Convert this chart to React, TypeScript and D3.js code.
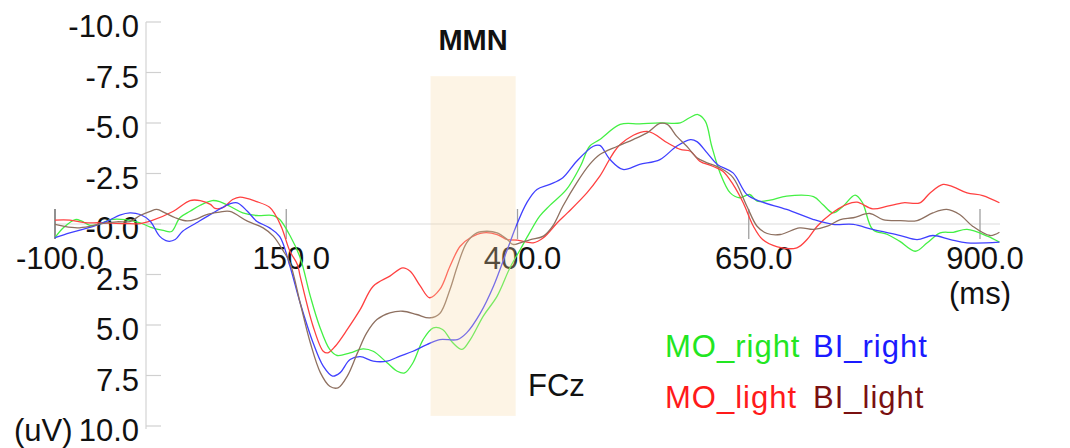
import { useEffect, useRef } from 'react';
import * as d3 from 'd3';

// ERP at FCz, time in ms vs amplitude in uV (negative up)
const xTicks = [-100, 150, 400, 650, 900];
const yTicks = [-10, -7.5, -5, -2.5, 0, 2.5, 5, 7.5, 10];

const seriesNames = ['MO_right', 'BI_right', 'MO_light', 'BI_light'];

// [ms, uV]
const moRight = [
  [-100, 0.68], [-91, 0.19], [-78, -0.22], [-71, -0.14], [-62, 0.07], [-51, -0.01], [-40, -0.22],
  [-24, -0.22], [-8, -0.06], [3, 0.15], [17, 0.32], [26, 0.37], [35, -0.31], [46, -0.63],
  [57, -0.93], [70, -1.16], [78, -1.11], [89, -0.88], [103, -0.55], [118, -0.42], [136, -0.42],
  [143, -0.22], [154, 0.57], [165, 1.66], [176, 3.57], [186, 5.06], [197, 6.21], [205, 6.51],
  [219, 6.38], [233, 6.18], [244, 6.3], [259, 6.87], [270, 7.29], [278, 7.37], [287, 6.87],
  [298, 5.72], [309, 5.14], [319, 5.22], [330, 5.88], [340, 6.21], [349, 5.72], [363, 4.56],
  [378, 3.57], [392, 2.15], [403, 1.26], [413, 0.44], [424, -0.39], [435, -0.92], [453, -1.71],
  [468, -2.86], [478, -3.85], [489, -4.18], [511, -4.93], [532, -4.96], [554, -5.01], [576, -5.01],
  [586, -5.26], [595, -5.42], [603, -5.09], [610, -3.85], [619, -2.53], [630, -1.54], [640, -1.3],
  [651, -1.46], [659, -1.13], [673, -1.18], [691, -1.38], [720, -1.35], [730, -0.97], [741, -0.55],
  [752, -0.88], [765, -1.43], [773, -1.05], [784, 0.27], [800, 0.52], [813, 0.85], [830, 1.35],
  [843, 0.93], [857, 0.44], [871, 0.41], [886, 0.27], [908, 0.6], [921, 0.9],
];

const biRight = [
  [-100, 0.68], [-84, 0.44], [-70, 0.27], [-51, -0.01], [-40, -0.22], [-30, -0.44], [-19, -0.55],
  [-8, -0.47], [3, -0.14], [13, 0.6], [22, 0.85], [30, 0.77], [38, 0.36], [53, -0.06],
  [71, -0.55], [89, -1.0], [97, -1.05], [108, -0.63], [118, -0.14], [132, 0.19], [143, 0.62],
  [154, 2.09], [165, 3.9], [179, 5.88], [190, 7.04], [200, 7.53], [208, 7.37], [219, 6.71],
  [230, 6.57], [244, 6.79], [259, 6.79], [273, 6.54], [287, 6.3], [302, 5.97], [316, 5.72],
  [335, 5.72], [345, 5.39], [360, 4.4], [374, 3.08], [389, 1.26], [400, -0.06], [410, -1.05],
  [421, -1.71], [435, -1.96], [449, -2.29], [464, -3.11], [482, -3.85], [489, -3.89], [500, -3.19],
  [514, -2.7], [532, -2.95], [554, -3.19], [572, -3.85], [587, -4.18], [594, -4.08], [605, -3.52],
  [616, -2.95], [633, -2.53], [648, -1.46], [662, -1.13], [691, -0.72], [720, -0.22], [741, 0.02],
  [763, 0.02], [784, 0.27], [814, 0.57], [832, 0.77], [849, 0.57], [868, 0.77], [886, 0.93],
  [921, 0.9],
];

const moLight = [
  [-100, -0.19], [-84, -0.19], [-68, -0.07], [-51, -0.06], [-24, -0.02], [-8, -0.02], [3, -0.14],
  [28, -0.63], [46, -1.16], [57, -1.16], [68, -0.97], [73, -0.77], [82, -0.82], [92, -1.21],
  [100, -1.33], [118, -1.11], [132, -0.83], [138, -0.47], [145, 0.17], [154, 1.35], [162, 2.0],
  [165, 2.58], [179, 5.06], [190, 6.3], [195, 6.38], [203, 6.05], [216, 5.22], [230, 4.23],
  [244, 3.08], [262, 2.58], [276, 2.17], [284, 2.34], [295, 3.08], [305, 3.65], [316, 3.24],
  [327, 2.09], [338, 1.1], [349, 0.68], [363, 0.44], [378, 0.52], [389, 0.77], [400, 0.8],
  [417, 0.93], [428, 0.68], [443, -0.06], [454, -0.55], [475, -1.54], [489, -2.37], [511, -3.94],
  [540, -4.59], [562, -4.02], [576, -3.69], [587, -3.6], [597, -3.11], [611, -2.86], [622, -2.61],
  [633, -1.96], [644, -1.05], [655, 0.11], [665, 0.77], [681, 1.13], [702, 1.18], [713, 0.77],
  [724, 0.11], [738, -0.47], [756, -0.97], [767, -1.08], [784, -0.75], [800, -0.88], [817, -1.05],
  [835, -1.05], [846, -1.54], [860, -1.96], [871, -1.84], [886, -1.54], [903, -1.41], [921, -1.05],
];

const biLight = [
  [-100, 0.02], [-91, 0.11], [-76, 0.19], [-62, 0.11], [-51, -0.01], [-33, -0.11], [-19, -0.12],
  [-8, -0.42], [3, -0.63], [10, -0.72], [19, -0.55], [30, -0.31], [43, -0.15], [54, -0.27],
  [64, -0.47], [78, -0.59], [89, -0.62], [108, -0.14], [125, 0.19], [136, 0.6], [147, 1.35],
  [154, 1.92], [165, 3.9], [176, 5.88], [187, 7.37], [197, 8.03], [206, 8.11], [216, 7.53],
  [227, 6.38], [237, 5.39], [248, 4.73], [262, 4.4], [276, 4.32], [291, 4.48], [305, 4.65],
  [316, 4.43], [327, 3.24], [335, 2.09], [345, 0.93], [356, 0.44], [367, 0.36], [378, 0.44],
  [389, 0.77], [395, 1.01], [403, 0.93], [414, 0.77], [428, 0.6], [438, 0.11], [449, -0.88],
  [464, -2.04], [478, -2.95], [489, -3.44], [508, -3.85], [525, -4.18], [540, -4.51], [554, -4.98],
  [562, -4.93], [572, -4.35], [583, -3.85], [594, -3.28], [605, -3.03], [619, -2.78], [633, -2.3],
  [648, -0.88], [659, 0.11], [670, 0.47], [684, 0.52], [705, 0.19], [720, 0.27], [735, 0.11],
  [749, -0.22], [763, -0.31], [781, -0.52], [795, -0.22], [814, -0.17], [832, -0.17], [849, -0.55],
  [864, -0.72], [878, -0.47], [892, 0.11], [911, 0.57], [921, 0.41],
];

const seriesData = [moRight, biRight, moLight, biLight];
const lineColors = ['#44f044', '#4040ff', '#ff4040', '#8e7060'];
const legendColors = ['#22e622', '#1a1aff', '#ff1a1a', '#7a1010'];
const drawOrder = [0, 2, 1, 3];

const mmnWindow = [306, 398];
const mmnRange = [-7.32, 9.5];

const W = 1070;
const H = 448;
const FONT = 'Liberation Sans, Arial, sans-serif';

export default function App() {
  const svgRef = useRef<SVGSVGElement | null>(null);

  useEffect(() => {
    const el = svgRef.current;
    if (!el) return;
    const svg = d3.select(el);
    svg.selectAll('*').remove();

    const x = d3.scaleLinear().domain([-100, 900]).range([55, 980]);
    const y = d3.scaleLinear().domain([-10, 10]).range([22, 426]);

    svg.append('rect').attr('width', W).attr('height', H).attr('fill', '#fff');

    // zero line
    svg.append('line')
      .attr('x1', x(-100)).attr('x2', 1000)
      .attr('y1', y(0)).attr('y2', y(0))
      .attr('stroke', '#dcdcdc').attr('stroke-width', 1.2);

    // y axis
    const x0 = x(0) - 1.5;
    svg.append('line')
      .attr('x1', x0).attr('x2', x0)
      .attr('y1', y(-10)).attr('y2', y(10) + 3)
      .attr('stroke', '#d4d4d4').attr('stroke-width', 1.2);

    yTicks.forEach(t => {
      svg.append('line')
        .attr('x1', x0).attr('x2', x0 + 15)
        .attr('y1', y(t)).attr('y2', y(t))
        .attr('stroke', '#d0d0d0').attr('stroke-width', 1.2);
      svg.append('text')
        .attr('x', 139).attr('y', y(t) + 15)
        .attr('text-anchor', 'end')
        .style('font-family', FONT).style('font-size', '31px').style('fill', '#111')
        .text(t === 0 ? '-0.0' : t.toFixed(1));
    });

    svg.append('text')
      .attr('x', 14).attr('y', y(10) + 15)
      .style('font-family', FONT).style('font-size', '31px').style('fill', '#111')
      .text('(uV)');

    // x ticks
    xTicks.forEach((t, i) => {
      svg.append('line')
        .attr('x1', x(t)).attr('x2', x(t))
        .attr('y1', y(0) - 15).attr('y2', y(0) + 15)
        .attr('stroke', i === 0 ? '#555' : '#a0a0a0').attr('stroke-width', 1.3);
      svg.append('text')
        .attr('x', x(t) + 5).attr('y', 269)
        .attr('text-anchor', 'middle')
        .style('font-family', FONT).style('font-size', '31px').style('fill', '#111')
        .text(t.toFixed(1));
    });

    svg.append('text')
      .attr('x', x(900)).attr('y', 304)
      .attr('text-anchor', 'middle')
      .style('font-family', FONT).style('font-size', '31px').style('fill', '#111')
      .text('(ms)');

    // waveforms
    const line = d3.line<number[]>()
      .x(d => x(d[0]))
      .y(d => y(d[1]))
      .curve(d3.curveCatmullRom.alpha(0.5));

    drawOrder.forEach(i => {
      svg.append('path')
        .datum(seriesData[i])
        .attr('fill', 'none')
        .attr('stroke', lineColors[i])
        .attr('stroke-width', 1.3)
        .attr('stroke-linejoin', 'round')
        .attr('d', line);
    });

    // MMN window (translucent overlay)
    svg.append('rect')
      .attr('x', x(mmnWindow[0])).attr('y', y(mmnRange[0]))
      .attr('width', x(mmnWindow[1]) - x(mmnWindow[0]))
      .attr('height', y(mmnRange[1]) - y(mmnRange[0]))
      .attr('fill', '#f8dca8').attr('opacity', 0.3);

    svg.append('text')
      .attr('x', (x(mmnWindow[0]) + x(mmnWindow[1])) / 2).attr('y', 50)
      .attr('text-anchor', 'middle')
      .style('font-family', FONT).style('font-size', '29px').style('font-weight', 'bold')
      .style('fill', '#111')
      .text('MMN');

    svg.append('text')
      .attr('x', 528).attr('y', 396)
      .style('font-family', FONT).style('font-size', '31px').style('fill', '#111')
      .text('FCz');

    // legend
    const legendPos = [[665, 357], [813, 357], [665, 408], [813, 408]];
    seriesNames.forEach((name, i) => {
      svg.append('text')
        .attr('x', legendPos[i][0]).attr('y', legendPos[i][1])
        .style('font-family', FONT).style('font-size', '31px')
        .style('letter-spacing', '1px')
        .style('fill', legendColors[i])
        .text(name);
    });
  }, []);

  return (
    <svg
      ref={svgRef}
      width={W}
      height={H}
      style={{ position: 'absolute', left: 0, top: 0, display: 'block' }}
    />
  );
}
